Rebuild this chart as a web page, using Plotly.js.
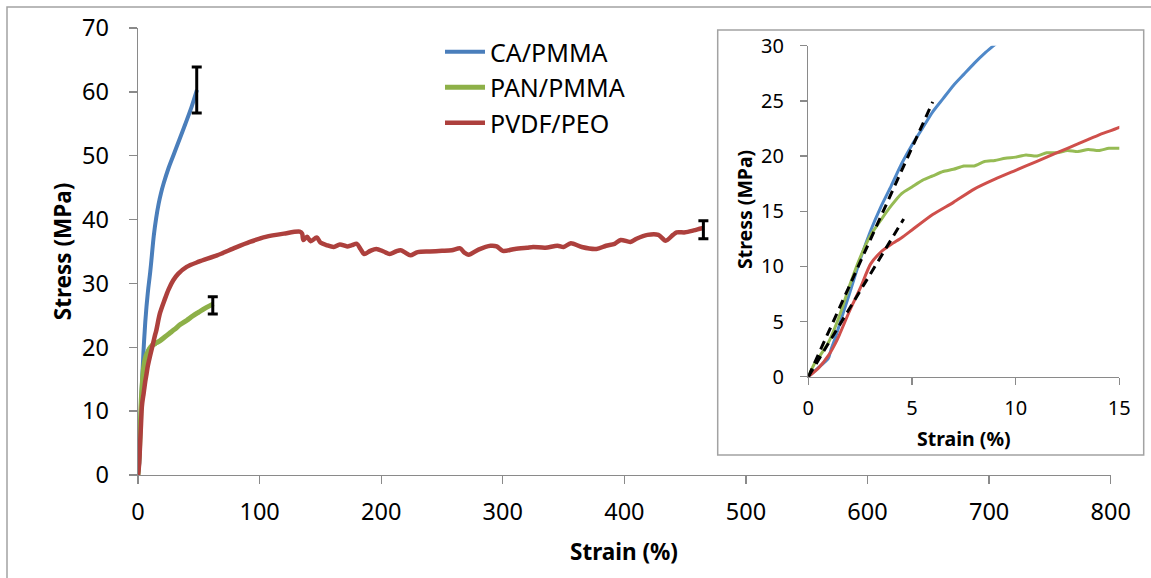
<!DOCTYPE html>
<html>
<head>
<meta charset="utf-8">
<script src="https://cdn.plot.ly/plotly-3.0.1.min.js"></script>
<style>
html,body{margin:0;padding:0;background:#fff;}
#chart{width:1151px;height:578px;}
</style>
</head>
<body>
<div id="chart"></div>
<script>
// ---------------- data ----------------
const seriesNames = ["CA/PMMA", "PAN/PMMA", "PVDF/PEO"];

const caStrain = [0,0.3,0.6,0.9,1.0,1.1,1.3,1.6,2.0,2.5,3.0,3.5,4.0,4.5,5.0,5.5,6.0,6.5,7.0,7.5,8.0,8.5,9.0,9.5,10,11,13,15,17,19,21,25,29,34,39,44,48.5];
const caStress = [0,0.5,1.0,1.5,1.8,2.5,3.5,5.3,7.6,10.6,13.2,15.4,17.3,19.3,21.0,22.5,24.0,25.2,26.4,27.4,28.4,29.3,30.1,30.9,31.7,33.6,37.5,40.3,42.5,44.2,45.6,48.0,50.0,52.5,55.0,57.6,60.3];

const panStrain = [0,0.3,0.6,1.0,1.5,2.0,2.5,3.0,3.5,4.0,4.5,5.0,5.5,6.0,6.5,7.0,7.5,8.0,8.5,9.0,9.5,10,10.5,11,11.5,12,12.5,13,13.5,14,14.5,15,18,22,26,30,35,40,45,50,55,60,62];
const panStress = [0,1.2,2.0,3.2,5.5,8.3,10.8,12.8,14.2,15.5,16.6,17.2,17.8,18.2,18.6,18.8,19.1,19.1,19.5,19.6,19.8,19.9,20.1,20.0,20.3,20.3,20.5,20.4,20.6,20.5,20.7,20.7,21.0,21.6,22.2,22.8,23.6,24.2,24.9,25.5,26.1,26.6,26.8];

const pvdfStrain = [0,0.5,1.0,1.3,1.5,2.0,2.5,3.0,3.5,4.0,4.5,5.0,6.0,7.0,8.0,9.0,10,11,12,13,14,15,18,22,25,29,33,40,50,65,80,92,105,120,133,135,136,139,142,147,150,155,161,166,172,176,180,183,186,191,196,202,207,212,216,220,224,230,240,250,258,265,268,272,280,290,295,300,310,320,325,335,345,350,356,365,377,385,392,397,405,410,419,428,434,440,443,450,457,463,465.5];
const pvdfStress = [0,0.8,2.0,3.0,3.8,6.0,8.0,10.2,11.3,12.0,12.6,13.3,14.7,15.8,17.0,17.9,18.7,19.5,20.3,21.1,21.9,22.6,25.3,27.5,29.0,30.5,31.5,32.6,33.4,34.4,35.6,36.5,37.3,37.8,38.1,37.8,36.8,37.3,36.6,37.2,36.4,36.0,35.7,36.1,35.8,36.0,36.2,35.4,34.6,35.1,35.4,35.0,34.6,35.0,35.2,34.8,34.4,34.9,35.0,35.1,35.2,35.5,34.9,34.5,35.3,35.9,35.8,35.1,35.4,35.6,35.7,35.6,35.9,35.7,36.3,35.7,35.4,35.9,36.2,36.8,36.5,37.0,37.6,37.6,36.7,37.6,38.0,38.0,38.3,38.6,38.7];

// end-point error bars (strain, mean stress, +/- error)
const errStrain = [48.3, 61.5, 465];
const errStress = [60.3, 26.55, 38.4];
const errSize = [3.6, 1.35, 1.4];

// linear-fit (modulus) guide lines for the inset
const fit1Strain = [0, 6.0];
const fit1Stress = [0, 24.9];
const fit2Strain = [0, 4.6];
const fit2Stress = [0, 14.3];

// tick labels
const mainXTicks = [0,100,200,300,400,500,600,700,800];
const mainYTicks = [0,10,20,30,40,50,60,70];
const insetXTicks = [0,5,10,15];
const insetYTicks = [0,5,10,15,20,25,30];

// ---------------- style ----------------
const W = 1151, H = 578;
const px = v => v / W;
const py = v => (H - v) / H;
const FONT = "Noto Sans, DejaVu Sans, sans-serif";
const colMain = ["#4a7ebb", "#8db048", "#ad403d"];
const colInset = ["#4f88c8", "#96bb54", "#cf4f4b"];
const axisCol = "#8a8a8a";

const strains = [caStrain, panStrain, pvdfStrain];
const stresses = [caStress, panStress, pvdfStress];
const mainWidths = [4, 5, 4.5];

const traces = [];
for (let i = 0; i < 3; i++) {
  traces.push({
    x: strains[i], y: stresses[i], type: "scatter", mode: "lines",
    name: seriesNames[i], legendgroup: "g" + i,
    line: {color: colMain[i], width: mainWidths[i], shape: "spline", smoothing: 0.8},
    xaxis: "x", yaxis: "y", hoverinfo: "skip"
  });
}
traces.push({
  x: errStrain, y: errStress, type: "scatter", mode: "markers",
  marker: {size: 1, opacity: 0}, showlegend: false, hoverinfo: "skip",
  error_y: {type: "data", array: errSize, visible: true, color: "#000", thickness: 3, width: 5},
  xaxis: "x", yaxis: "y"
});
for (let i = 0; i < 3; i++) {
  traces.push({
    x: strains[i], y: stresses[i], type: "scatter", mode: "lines",
    showlegend: false, line: {color: colInset[i], width: 3, shape: "spline", smoothing: 0.6},
    xaxis: "x2", yaxis: "y2", hoverinfo: "skip"
  });
}
traces.push({x: fit1Strain, y: fit1Stress, type: "scatter", mode: "lines", showlegend: false,
  line: {color: "#000", width: 3, dash: "9px,6px"}, xaxis: "x2", yaxis: "y2", hoverinfo: "skip"});
traces.push({x: fit2Strain, y: fit2Stress, type: "scatter", mode: "lines", showlegend: false,
  line: {color: "#000", width: 3, dash: "9px,6px"}, xaxis: "x2", yaxis: "y2", hoverinfo: "skip"});

const axBase = {
  showgrid: false, zeroline: false, showline: true, linecolor: axisCol, linewidth: 1.3,
  ticks: "outside", tickcolor: axisCol, tickwidth: 1.3, fixedrange: true, tickmode: "array"
};

const layout = {
  width: W, height: H,
  margin: {l: 0, r: 0, t: 0, b: 0},
  paper_bgcolor: "#fff", plot_bgcolor: "rgba(0,0,0,0)",
  font: {family: FONT, color: "#000"},
  showlegend: true,
  legend: {x: px(440), y: py(29), xanchor: "left", yanchor: "top",
    font: {family: FONT, size: 25, color: "#000"}, bgcolor: "rgba(0,0,0,0)",
    tracegroupgap: 0, itemwidth: 40},
  xaxis: Object.assign({}, axBase, {domain: [px(138), px(1110.7)], range: [0, 800],
    tickvals: mainXTicks, ticklen: 8, ticklabelstandoff: 7, tickfont: {family: FONT, size: 23.5}, anchor: "y"}),
  yaxis: Object.assign({}, axBase, {domain: [py(475), py(28)], range: [0, 70],
    tickvals: mainYTicks, ticklen: 8, ticklabelstandoff: 15, tickfont: {family: FONT, size: 23.5}, anchor: "x"}),
  xaxis2: Object.assign({}, axBase, {domain: [px(808.3), px(1119.3)], range: [0, 15],
    tickvals: insetXTicks, ticklen: 7, ticklabelstandoff: 6, tickfont: {family: FONT, size: 20}, anchor: "y2"}),
  yaxis2: Object.assign({}, axBase, {domain: [py(376.7), py(45.7)], range: [0, 30],
    tickvals: insetYTicks, ticklen: 7, ticklabelstandoff: 12, tickfont: {family: FONT, size: 20}, anchor: "x2"}),
  shapes: [
    {type: "rect", xref: "paper", yref: "paper", x0: px(7), x1: px(1170), y0: py(600), y1: py(7),
     line: {color: "#a3a3a3", width: 1.5}, fillcolor: "rgba(0,0,0,0)", layer: "below"},
    {type: "rect", xref: "paper", yref: "paper", x0: px(717.7), x1: px(1143.7), y0: py(455), y1: py(30),
     line: {color: "#a3a3a3", width: 1.5}, fillcolor: "#fff", layer: "below"}
  ],
  annotations: [
    {text: "<b>Stress (MPa)</b>", xref: "paper", yref: "paper", x: px(62.5), y: py(251.7),
     xanchor: "center", yanchor: "middle", textangle: -90, showarrow: false,
     font: {family: FONT, size: 22.5, color: "#000"}},
    {text: "<b>Strain (%)</b>", xref: "paper", yref: "paper", x: px(624), y: py(551.7),
     xanchor: "center", yanchor: "middle", showarrow: false,
     font: {family: FONT, size: 22.5, color: "#000"}},
    {text: "<b>Stress (MPa)</b>", xref: "paper", yref: "paper", x: px(744), y: py(210),
     xanchor: "center", yanchor: "middle", textangle: -90, showarrow: false,
     font: {family: FONT, size: 19.5, color: "#000"}},
    {text: "<b>Strain (%)</b>", xref: "paper", yref: "paper", x: px(964), y: py(438.7),
     xanchor: "center", yanchor: "middle", showarrow: false,
     font: {family: FONT, size: 19.5, color: "#000"}}
  ]
};

Plotly.newPlot("chart", traces, layout, {staticPlot: true, displayModeBar: false});
</script>
</body>
</html>
